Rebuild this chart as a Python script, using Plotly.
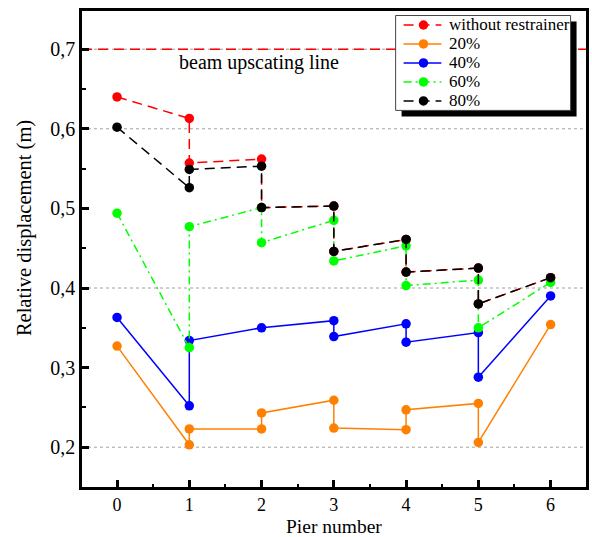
import plotly.graph_objects as go

# Pier positions and relative displacements for each restrainer stiffness case.
# Piers with two entries carry the displacement on each side of the joint.
piers_red = [0, 1, 1, 2, 2, 3, 3, 4, 4, 5, 5, 6]
disp_red = [0.640, 0.613, 0.557, 0.562, 0.501, 0.503, 0.446, 0.461, 0.420, 0.425, 0.380, 0.413]

piers_20 = [0, 1, 1, 2, 2, 3, 3, 4, 4, 5, 5, 6]
disp_20 = [0.327, 0.203, 0.223, 0.223, 0.243, 0.259, 0.224, 0.222, 0.247, 0.255, 0.206, 0.354]

piers_40 = [0, 1, 1, 2, 3, 3, 4, 4, 5, 5, 6]
disp_40 = [0.363, 0.252, 0.334, 0.350, 0.359, 0.339, 0.355, 0.332, 0.344, 0.288, 0.390]

piers_60 = [0, 1, 1, 2, 2, 3, 3, 4, 4, 5, 5, 6]
disp_60 = [0.494, 0.325, 0.477, 0.501, 0.457, 0.485, 0.434, 0.453, 0.403, 0.410, 0.350, 0.407]

piers_80 = [0, 1, 1, 2, 2, 3, 3, 4, 4, 5, 5, 6]
disp_80 = [0.602, 0.526, 0.549, 0.553, 0.501, 0.503, 0.446, 0.461, 0.420, 0.425, 0.380, 0.413]

series_names = ["without restrainer", "20%", "40%", "60%", "80%"]
upscating_level = 0.7
upscating_label = "beam upscating line"
grid_levels = [0.2, 0.4, 0.6, 0.7]
y_ticks = [0.2, 0.3, 0.4, 0.5, 0.6, 0.7]
x_ticks = [0, 1, 2, 3, 4, 5, 6]

FONT = "Liberation Serif"
W, H = 592, 537
L, R, T, B = 81.5, 3.5, 10.5, 50
PW, PH = W - L - R, H - T - B


def px_x(px):
    return (px - L) / PW


def px_y(py):
    return (H - B - py) / PH


styles = [
    dict(color="#FF0000", dash="10px,6px"),
    dict(color="#FF8000", dash="solid"),
    dict(color="#0000FF", dash="solid"),
    dict(color="#00FF00", dash="8px,4px,2px,4px"),
    dict(color="#000000", dash="10px,6px"),
]
data = [
    (piers_red, disp_red),
    (piers_20, disp_20),
    (piers_40, disp_40),
    (piers_60, disp_60),
    (piers_80, disp_80),
]
MARKER = 9.5

fig = go.Figure()

for name, (xs, ys), st in zip(series_names, data, styles):
    fig.add_trace(go.Scatter(
        x=xs, y=ys, name=name, mode="lines+markers", showlegend=False,
        line=dict(color=st["color"], width=1.5, dash=st["dash"]),
        marker=dict(color=st["color"], size=MARKER, line=dict(width=0)),
    ))

# dotted horizontal grid
for g in grid_levels:
    fig.add_shape(type="line", xref="paper", yref="y", x0=0, x1=1, y0=g, y1=g,
                  line=dict(color="#A0A0A0", width=1, dash="3px,3px"), layer="below")

# upscating threshold line
fig.add_shape(type="line", xref="paper", yref="y", x0=0, x1=1,
              y0=upscating_level, y1=upscating_level,
              line=dict(color="#FF0000", width=1.5, dash="10px,6px"), layer="below")
fig.add_annotation(x=1.96, y=0.683, xref="x", yref="y", text=upscating_label,
                   showarrow=False, font=dict(family=FONT, size=20, color="black"),
                   xanchor="center", yanchor="middle")

# axis titles
fig.add_annotation(x=px_x(23), y=px_y(228), xref="paper", yref="paper",
                   text="Relative displacement (m)", textangle=-90, showarrow=False,
                   font=dict(family=FONT, size=20.5, color="black"),
                   xanchor="center", yanchor="middle")
fig.add_annotation(x=0.5, y=px_y(527), xref="paper", yref="paper",
                   text="Pier number", showarrow=False,
                   font=dict(family=FONT, size=19.5, color="black"),
                   xanchor="center", yanchor="middle")

# legend box with drop shadow
lg_left, lg_top, lg_right, lg_bot = 397, 15, 573, 110
shadow = 6
fig.add_shape(type="rect", xref="paper", yref="paper",
              x0=px_x(lg_left + shadow), x1=px_x(lg_right + shadow),
              y0=px_y(lg_bot + shadow), y1=px_y(lg_top + shadow),
              fillcolor="black", line=dict(width=0), layer="above")
fig.add_shape(type="rect", xref="paper", yref="paper",
              x0=px_x(lg_left), x1=px_x(lg_right), y0=px_y(lg_bot), y1=px_y(lg_top),
              fillcolor="white", line=dict(color="#444444", width=1), layer="above")

row_y0, row_step = 24.5, 19
key_x0, key_x1, key_dot, text_x = 405, 443, 425, 449
for i, (name, st) in enumerate(zip(series_names, styles)):
    ry = row_y0 + i * row_step
    fig.add_shape(type="line", xref="paper", yref="paper",
                  x0=px_x(key_x0), x1=px_x(key_x1), y0=px_y(ry), y1=px_y(ry),
                  line=dict(color=st["color"], width=1.5, dash=st["dash"]), layer="above")
    r = MARKER / 2
    fig.add_shape(type="circle", xref="paper", yref="paper",
                  x0=px_x(key_dot - r), x1=px_x(key_dot + r),
                  y0=px_y(ry + r), y1=px_y(ry - r),
                  fillcolor=st["color"], line=dict(width=0), layer="above")
    fig.add_annotation(x=px_x(text_x), y=px_y(ry), xref="paper", yref="paper",
                       text=name, showarrow=False, xanchor="left", yanchor="middle",
                       font=dict(family=FONT, size=17, color="black"))

axis_common = dict(
    showline=True, linecolor="black", linewidth=2.7, mirror=True,
    ticks="inside", ticklen=7, tickwidth=2.5, tickcolor="black",
    showgrid=False, zeroline=False,
)

fig.update_xaxes(range=[-0.485, 6.49], tickvals=x_ticks,
                 tickfont=dict(family=FONT, size=18, color="black"),
                 minor=dict(ticks="inside", dtick=0.5, ticklen=3, tickwidth=2, tickcolor="black"),
                 **axis_common)
fig.update_yaxes(range=[0.150, 0.748], tickvals=y_ticks, tickformat=".1f",
                 tickfont=dict(family=FONT, size=20, color="black"),
                 minor=dict(ticks="inside", dtick=0.05, tick0=0.15, ticklen=4, tickwidth=2, tickcolor="black"),
                 **axis_common)

fig.update_layout(
    width=W, height=H,
    margin=dict(l=L, r=R, t=T, b=B, pad=0),
    paper_bgcolor="white", plot_bgcolor="white",
    separators=",.",
    showlegend=False,
)

fig.write_html("out.html")
